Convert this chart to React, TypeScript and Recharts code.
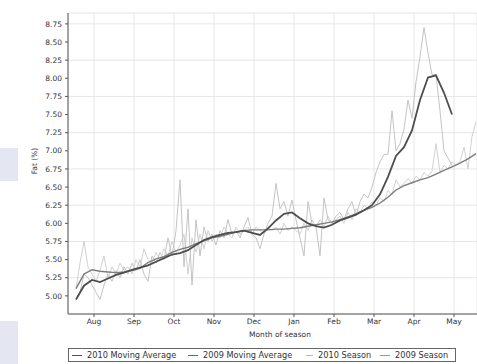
import { LineChart, Line, XAxis, YAxis, CartesianGrid } from 'recharts';

// month ticks on the x axis (1 = Aug ... 10 = May)
const MONTHS = ['Aug', 'Sep', 'Oct', 'Nov', 'Dec', 'Jan', 'Feb', 'Mar', 'Apr', 'May'];
const MONTH_TICKS = [1, 2, 3, 4, 5, 6, 7, 8, 9, 10];
const FAT_TICKS = [5.0, 5.25, 5.5, 5.75, 6.0, 6.25, 6.5, 6.75, 7.0, 7.25, 7.5, 7.75, 8.0, 8.25, 8.5, 8.75];

// season readings, one every 0.1 month starting at 0.55 (late July)
const SEASON_START = 0.55;
const SEASON_STEP = 0.1;
const season2010 = [
    4.95, 5.05, 5.30, 5.25, 5.15, 5.05, 4.95, 5.15, 5.30, 5.20, 5.35, 5.25, 5.40, 5.30,
    5.45, 5.35, 5.50, 5.30, 5.20, 5.55, 5.45, 5.60, 5.50, 5.80, 5.55, 5.90, 6.60, 5.40,
    6.20, 5.15, 6.05, 5.55, 5.95, 5.75, 5.85, 5.70, 5.90, 5.80, 6.05, 5.85, 5.90, 5.80,
    5.95, 6.08, 5.85, 5.80, 5.65, 5.85, 6.00, 6.10, 6.55, 6.20, 6.30, 6.10, 6.32, 6.05, 5.80,
    5.55, 6.30, 6.00, 5.95, 5.55, 6.35, 6.05, 6.00, 6.10, 6.15, 6.05, 6.20, 6.30, 6.10,
    6.30, 6.40, 6.35, 6.50, 6.70,
    6.85, 6.95, 6.95, 7.55, 7.00, 7.10, 7.30, 7.70, 7.45, 7.95, 8.30, 8.70, 8.35, 8.05,
    8.05, 7.55, 7.00, 6.90, 6.80,
];
const season2009 = [
    5.10, 5.45, 5.75, 5.40, 5.30, 5.20, 5.35, 5.55, 5.25, 5.40, 5.30, 5.45, 5.35, 5.40,
    5.30, 5.50, 5.40, 5.65, 5.50, 5.45, 5.60, 5.50, 5.65, 5.55, 5.75, 5.60, 5.70, 5.85,
    5.30, 5.80, 5.60, 5.85, 5.65, 5.90, 5.75, 5.85, 5.80, 5.95, 5.85, 5.80, 5.95, 5.85,
    5.90, 5.95, 5.85, 5.95, 5.90, 5.85, 5.95, 5.90, 5.95, 5.85, 6.00, 5.90, 5.95, 5.90, 5.85,
    6.00, 5.90, 6.05, 5.95, 6.05, 5.95, 6.10, 6.00, 6.05, 6.10, 6.00, 6.15, 6.05, 6.20,
    6.15, 6.25, 6.20, 6.30, 6.25,
    6.35, 6.30, 6.45, 6.40, 6.60, 6.50, 6.55, 6.62, 6.55, 6.65, 6.60, 6.70, 6.65, 6.72,
    7.10, 6.70, 6.80, 6.75, 6.85, 6.80, 6.85, 7.05, 6.75, 7.20, 7.40,
];

// moving averages, one every 0.2 month
const MA_STEP = 0.2;
const ma2010 = [
    4.95, 5.14, 5.22, 5.19, 5.24, 5.29, 5.32, 5.36, 5.39, 5.42, 5.47, 5.52, 5.57, 5.59,
    5.63, 5.70, 5.77, 5.81, 5.84, 5.87, 5.88, 5.90, 5.87, 5.84, 5.93, 6.04, 6.13, 6.15,
    6.07, 6.00, 5.96, 5.94, 5.98, 6.04, 6.08, 6.12, 6.18, 6.25, 6.40, 6.64, 6.93, 7.05,
    7.28, 7.70, 8.01, 8.04, 7.80, 7.50,
];
const ma2009 = [
    5.10, 5.30, 5.36, 5.34, 5.33, 5.32, 5.33, 5.35, 5.38, 5.46, 5.51, 5.54, 5.60, 5.64,
    5.67, 5.72, 5.76, 5.80, 5.82, 5.85, 5.88, 5.90, 5.91, 5.91, 5.91, 5.92, 5.92, 5.93,
    5.94, 5.96, 5.98, 6.00, 6.02, 6.05, 6.09, 6.13, 6.18, 6.22, 6.28, 6.36, 6.46, 6.52,
    6.56, 6.60, 6.63, 6.68, 6.73, 6.78, 6.83, 6.89, 6.96,
];

const SERIES = [
    { name: '2010 Moving Average', color: '#4d4d4d', legend: '#555' },
    { name: '2009 Moving Average', color: '#7c7c7c', legend: '#666' },
    { name: '2010 Season', color: '#c4c4c4', legend: '#bbb' },
    { name: '2009 Season', color: '#d2d2d2', legend: '#999' },
];

const toPoints = (values: number[], step: number) =>
    values.map((v, i) => ({ m: +(SEASON_START + i * step).toFixed(2), v }));

const W = 477;
const H = 364;
const FONT = '"DejaVu Sans", sans-serif';

export default function App() {
    const lines = [
        { data: toPoints(season2009, SEASON_STEP), color: SERIES[3].color, width: 1 },
        { data: toPoints(season2010, SEASON_STEP), color: SERIES[2].color, width: 1 },
        { data: toPoints(ma2009, MA_STEP), color: SERIES[1].color, width: 1.4 },
        { data: toPoints(ma2010, MA_STEP), color: SERIES[0].color, width: 1.8 },
    ];
    // legend dash and text positions (page x)
    const dashLeft = [72, 188, 306, 380];
    const textLeft = [87, 203, 318, 395];

    return (
        <div style={{ position: 'absolute', left: 0, top: 0, width: W, height: H, background: '#fff', overflow: 'hidden', fontFamily: FONT }}>
            {/* page scan remnants on the left */}
            <div style={{ position: 'absolute', left: 0, top: 148, width: 18, height: 33, background: '#e4e6f1' }} />
            <div style={{ position: 'absolute', left: 0, top: 321, width: 18, height: 43, background: '#e4e6f1' }} />

            <div style={{ position: 'absolute', left: 0, top: 0 }}>
                <LineChart width={W} height={H} margin={{ top: 13, right: 0, bottom: 34, left: 0 }}>
                    <CartesianGrid stroke="#e6e6e6" />
                    <XAxis
                        type="number"
                        dataKey="m"
                        domain={[0.35, 10.575]}
                        allowDataOverflow
                        ticks={MONTH_TICKS}
                        tickFormatter={(v: number) => MONTHS[v - 1]}
                        height={16}
                        tickSize={3}
                        tickMargin={2}
                        stroke="#555"
                        tick={{ fontSize: 7.5, fill: '#333', fontFamily: FONT }}
                    />
                    <YAxis
                        type="number"
                        domain={[4.75, 8.9]}
                        allowDataOverflow
                        ticks={FAT_TICKS}
                        tickFormatter={(v: number) => v.toFixed(2)}
                        width={68}
                        tickSize={3}
                        tickMargin={3}
                        stroke="#555"
                        tick={{ fontSize: 7.5, fill: '#333', fontFamily: FONT }}
                    />
                    {lines.map((l, i) => (
                        <Line
                            key={i}
                            data={l.data}
                            dataKey="v"
                            type="linear"
                            stroke={l.color}
                            strokeWidth={l.width}
                            dot={false}
                            isAnimationActive={false}
                        />
                    ))}
                </LineChart>
            </div>

            <div style={{ position: 'absolute', left: 34, top: 161, transform: 'translate(-50%, -50%) rotate(-90deg)', fontSize: 7.5, color: '#333', whiteSpace: 'nowrap' }}>
                Fat (%)
            </div>
            <div style={{ position: 'absolute', left: 280, top: 334, transform: 'translate(-50%, -50%)', fontSize: 7.5, color: '#333', whiteSpace: 'nowrap' }}>
                Month of season
            </div>

            <div style={{ position: 'absolute', left: 68, top: 348, width: 388, height: 14, border: '1px solid #666', boxSizing: 'border-box' }} />
            {SERIES.map((s, i) => (
                <div key={s.name}>
                    <div style={{ position: 'absolute', left: dashLeft[i], top: 355, width: i === 2 ? 7 : 10, borderTop: `1px solid ${s.legend}` }} />
                    <div style={{ position: 'absolute', left: textLeft[i], top: 355, transform: 'translateY(-50%)', fontSize: 8.2, lineHeight: '10px', color: '#333', whiteSpace: 'nowrap' }}>
                        {s.name}
                    </div>
                </div>
            ))}
        </div>
    );
}
